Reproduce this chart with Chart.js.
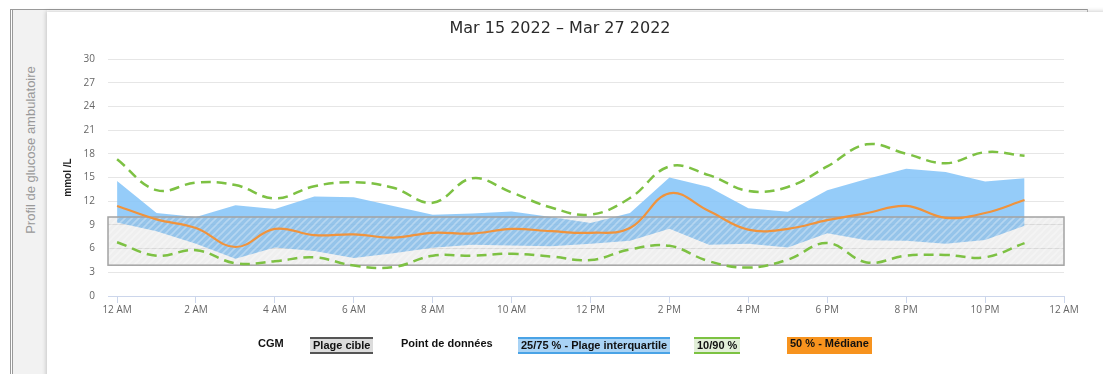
<!DOCTYPE html>
<html lang="fr">
<head>
<meta charset="utf-8">
<title>Profil de glucose ambulatoire</title>
<script src="https://cdn.jsdelivr.net/npm/chart.js@4.4.1/dist/chart.umd.min.js"></script>
<style>
  html, body { margin: 0; padding: 0; background: #fff; }
  #page { position: relative; width: 1103px; height: 374px; overflow: hidden; }
  #frame { position: absolute; left: 10px; top: 9px; width: 1074px; height: 400px;
           border-top: 1px solid #9a9a9a; border-left: 3px double #9a9a9a; border-right: 1px solid #bbb; }
  #sidebar { position: absolute; left: 13px; top: 10px; width: 34px; height: 364px; background: #f2f2f2; }
  #sidebar span { position: absolute; left: 17px; top: 140px; white-space: nowrap;
                  transform: translate(-50%, -50%) rotate(-90deg);
                  font: 13px "Liberation Sans", Arial, sans-serif; color: #999; }
  #card { position: absolute; left: 47px; top: 12px; width: 1060px; height: 380px; background: #fff;
          box-shadow: -1px -1px 4px rgba(0,0,0,0.18); }
  #chart { position: absolute; left: 0; top: 0; }
  #title { position: absolute; left: 0; width: 1120px; top: 18px; text-align: center;
           font: 16px "DejaVu Sans", sans-serif; color: #2b2b2b; }
  .lg { position: absolute; top: 337px; height: 17px; line-height: 17px; padding: 0 3px;
        font: bold 11px "Liberation Sans", Arial, sans-serif; color: #111; white-space: nowrap; box-sizing: border-box; }
  .lg.target { background: #dcdcdc; border-top: 2px solid #555; border-bottom: 2px solid #555; line-height: 13px; }
  .lg.iqr { background: #a9d3f5; border-top: 2px solid #4aa3e6; border-bottom: 2px solid #4aa3e6; line-height: 13px; }
  .lg.p1090 { background: #e2efd8; border-top: 2px solid #7cc242; border-bottom: 2px solid #7cc242; line-height: 13px; }
  .lg.median { background: #f7931e; }
</style>
</head>
<body>
<div id="page">
  <div id="frame"></div>
  <div id="sidebar"><span>Profil de glucose ambulatoire</span></div>
  <div id="card"></div>
  <canvas id="chart" width="1103" height="374"></canvas>
  <div id="title">Mar 15 2022 – Mar 27 2022</div>
  <div class="lg" style="left:255px">CGM</div>
  <div class="lg target" style="left:310px">Plage cible</div>
  <div class="lg" style="left:398px">Point de données</div>
  <div class="lg iqr" style="left:518px">25/75 % - Plage interquartile</div>
  <div class="lg p1090" style="left:694px">10/90 %</div>
  <div class="lg median" style="left:787px">50 % - Médiane</div>
</div>
<script>
// hour of day for each profile point
const hours = [0, 1, 2, 3, 4, 5, 6, 7, 8, 9, 10, 11, 12, 13, 14, 15, 16, 17, 18, 19, 20, 21, 22, 23];

// glucose percentiles (mmol/L)
const p90 = [17.3, 13.4, 14.35, 14.05, 12.35, 13.9, 14.4, 13.7, 11.8, 14.9, 13.1, 11.2, 10.3, 12.4, 16.4, 15.3, 13.3, 13.8, 16.4, 19.2, 18.0, 16.8, 18.2, 17.75];
const p75 = [14.55, 10.5, 10.0, 11.5, 11.0, 12.6, 12.5, 11.4, 10.3, 10.45, 10.7, 10.0, 9.25, 10.5, 15.0, 13.8, 11.1, 10.65, 13.4, 14.8, 16.1, 15.7, 14.5, 14.9];
const p50 = [11.4, 9.7, 8.6, 6.2, 8.5, 7.7, 7.8, 7.4, 8.0, 7.9, 8.5, 8.2, 8.0, 8.6, 13.0, 10.75, 8.4, 8.5, 9.6, 10.5, 11.4, 9.9, 10.5, 12.15];
const p25 = [9.3, 8.2, 6.6, 4.7, 6.15, 5.7, 4.8, 5.4, 6.1, 6.5, 6.4, 6.3, 6.6, 7.0, 8.5, 6.5, 6.6, 6.15, 7.95, 7.05, 7.0, 6.6, 7.1, 8.9];
const p10 = [6.8, 5.1, 5.8, 4.15, 4.4, 4.9, 3.85, 3.65, 5.1, 5.1, 5.35, 5.0, 4.55, 5.9, 6.35, 4.4, 3.6, 4.6, 6.7, 4.25, 5.1, 5.2, 4.9, 6.7];

// target range
const targetLow = 3.9;
const targetHigh = 10.0;

// x axis ticks
const tickHours = [0, 2, 4, 6, 8, 10, 12, 14, 16, 18, 20, 22, 24];
const tickLabels = ['12 AM', '2 AM', '4 AM', '6 AM', '8 AM', '10 AM', '12 PM', '2 PM', '4 PM', '6 PM', '8 PM', '10 PM', '12 AM'];

const toPoints = arr => arr.map((v, i) => ({ x: hours[i], y: v }));

// hatched fill for the target band
function makeHatch() {
  const c = document.createElement('canvas');
  c.width = 7; c.height = 7;
  const g = c.getContext('2d');
  g.fillStyle = 'rgba(150,150,150,0.15)';
  g.fillRect(0, 0, 7, 7);
  g.strokeStyle = 'rgba(255,255,255,0.3)';
  g.lineWidth = 1.6;
  g.beginPath();
  g.moveTo(-1, 8); g.lineTo(8, -1);
  g.moveTo(-1, 1); g.lineTo(1, -1);
  g.moveTo(6, 8); g.lineTo(8, 6);
  g.stroke();
  return g.createPattern(c, 'repeat');
}

// draws the target box right after the interquartile fill
const targetBand = {
  id: 'targetBand',
  afterDatasetDraw(chart, args) {
    if (chart.data.datasets[args.index].id !== 'iqrLow') return;
    const { ctx, chartArea, scales } = chart;
    const yTop = scales.y.getPixelForValue(targetHigh);
    const yBot = scales.y.getPixelForValue(targetLow);
    ctx.save();
    ctx.fillStyle = makeHatch();
    ctx.fillRect(chartArea.left, yTop, chartArea.right - chartArea.left, yBot - yTop);
    ctx.strokeStyle = '#a3a3a3';
    ctx.lineWidth = 1.5;
    ctx.strokeRect(chartArea.left, yTop, chartArea.right - chartArea.left, yBot - yTop);
    ctx.restore();
  }
};

const tickFont = { family: '"Open Sans", sans-serif', size: 10 };

new Chart(document.getElementById('chart'), {
  type: 'line',
  data: {
    datasets: [
      { id: 'iqrHigh', data: toPoints(p75), borderWidth: 0, pointRadius: 0, fill: false, tension: 0, order: 6 },
      { id: 'iqrLow', data: toPoints(p25), borderWidth: 0, pointRadius: 0, fill: '-1',
        backgroundColor: 'rgba(130,195,248,0.85)', tension: 0, order: 5 },
      { id: 'p90', data: toPoints(p90), borderColor: '#7dc143', borderWidth: 2.5, borderDash: [10, 6],
        pointRadius: 0, fill: false, tension: 0.4, order: 3 },
      { id: 'p10', data: toPoints(p10), borderColor: '#7dc143', borderWidth: 2.5, borderDash: [10, 6],
        pointRadius: 0, fill: false, tension: 0.4, order: 2 },
      { id: 'p50', data: toPoints(p50), borderColor: '#f0933c', borderWidth: 2.2,
        pointRadius: 0, fill: false, tension: 0.4, order: 1 }
    ]
  },
  options: {
    responsive: false,
    animation: false,
    events: [],
    layout: { padding: { left: 58, right: 39, top: 59, bottom: 0 } },
    plugins: {
      legend: { display: false },
      tooltip: { enabled: false },
      title: { display: false }
    },
    scales: {
      x: {
        type: 'linear',
        bounds: 'data',
        min: -0.23,
        max: 24,
        afterBuildTicks: scale => { scale.ticks = tickHours.map(v => ({ value: v })); },
        afterFit: scale => { scale.height = 78; },
        ticks: {
          autoSkip: false,
          maxRotation: 0,
          padding: 1,
          color: '#666',
          font: tickFont,
          callback: value => tickLabels[tickHours.indexOf(value)]
        },
        grid: { drawOnChartArea: false, color: '#ccd6eb', tickLength: 7 },
        border: { color: '#ccd6eb' }
      },
      y: {
        min: 0,
        max: 30,
        afterFit: scale => { scale.width = 50; },
        ticks: { stepSize: 3, padding: 13, color: '#666', font: tickFont },
        grid: { color: '#e6e6e6', drawTicks: false },
        border: { display: false },
        title: {
          display: true,
          text: 'mmol /L',
          color: '#222',
          font: { family: '"Liberation Sans", Arial, sans-serif', size: 10, weight: 'bold' }
        }
      }
    }
  },
  plugins: [targetBand]
});
</script>
</body>
</html>
